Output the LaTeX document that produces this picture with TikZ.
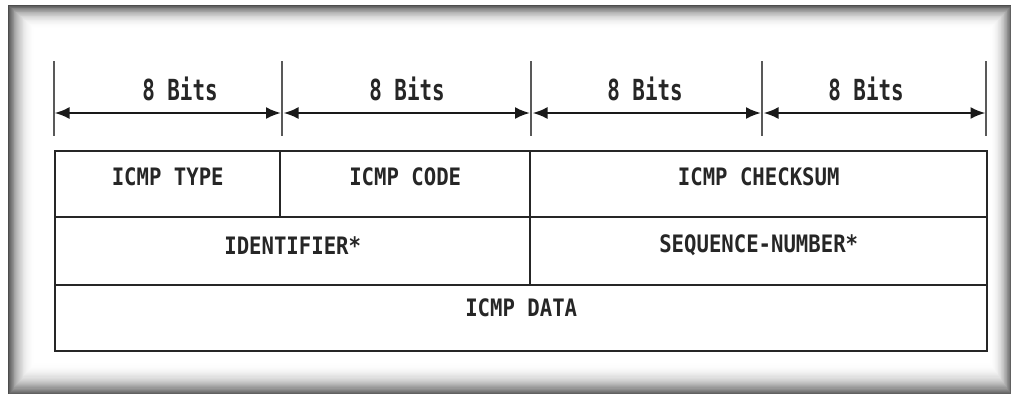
\documentclass[tikz,border=0pt]{standalone}
\usepackage{fontspec}
\usepackage{graphicx}
\usetikzlibrary{arrows.meta}
\newfontfamily\labfont{DejaVu Sans Mono}
\newcommand{\bitstext}[1]{\scalebox{0.72}[1]{\labfont\bfseries #1}}
\newcommand{\celltext}[1]{\scalebox{0.86}[1]{\labfont\bfseries #1}}
\tikzset{
  bitmark/.style={draw=black!65, line width=1.3pt},
  span/.style={{Latex[length=15pt,width=12pt]}-{Latex[length=15pt,width=12pt]}, line width=2.4pt, draw=black!90},
  cell/.style={draw=black!85, line width=2.4pt, rectangle, inner sep=0pt, anchor=north west},
  bitlbl/.style={font=\fontsize{29pt}{30pt}\selectfont, text=black!85, inner sep=0pt},
  celllbl/.style={font=\fontsize{24pt}{26pt}\selectfont, text=black!85, inner sep=0pt}
}
\begin{document}
\begin{tikzpicture}[x=1pt,y=-1pt]
\useasboundingbox (0,0) rectangle (1011,394);
\fill[white] (0,0) rectangle (1011,394);
% shadowed frame
\fill[black!70] (8,5) rectangle (1011,394);
\foreach \i in {0,...,30}{
  \pgfmathsetmacro{\c}{62*(1-\i/30)^2.4}
  \fill[black!\c] (9+\i*0.9,6+\i*0.8) rectangle (1011-\i*0.75,394-\i*1.1);
}
% bit marks
\foreach \n/\x in {0/54,1/282,2/531,3/762,4/986}{
  \coordinate (top\n) at (\x,61);
  \coordinate (bot\n) at (\x,136);
  \coordinate (arr\n) at (\x,113);
  \draw[bitmark] (top\n) -- (bot\n);
}
\draw[span, shorten <=0.5pt, shorten >=1pt] (arr0) -- (arr1);
\draw[span, shorten <=1.5pt, shorten >=1pt] (arr1) -- (arr2);
\draw[span, shorten <=1.5pt, shorten >=1pt] (arr2) -- (arr3);
\draw[span, shorten <=1.5pt, shorten >=0.5pt] (arr3) -- (arr4);
\node[bitlbl] (b1) at (180,89) {\bitstext{8 Bits}};
\node[bitlbl] (b2) at (407,89) {\bitstext{8 Bits}};
\node[bitlbl] (b3) at (645,89) {\bitstext{8 Bits}};
\node[bitlbl] (b4) at (866,89) {\bitstext{8 Bits}};
% table cells
\node[cell, minimum width=225pt, minimum height=66pt] (type) at (54,150) {};
\node[cell, minimum width=250pt, minimum height=66pt] (code) at (279,150) {};
\node[cell, minimum width=457pt, minimum height=66pt] (sum) at (529,150) {};
\node[cell, minimum width=475pt, minimum height=68pt] (ident) at (54,216) {};
\node[cell, minimum width=457pt, minimum height=68pt] (seq) at (529,216) {};
\node[cell, minimum width=932pt, minimum height=66pt] (data) at (54,284) {};
\node[celllbl] at ([yshift=7pt]type.center) {\celltext{ICMP TYPE}};
\node[celllbl] at ([yshift=7pt]code.center) {\celltext{ICMP CODE}};
\node[celllbl] at ([yshift=7pt]sum.center) {\celltext{ICMP CHECKSUM}};
\node[celllbl] at ([yshift=6pt]ident.center) {\celltext{IDENTIFIER*}};
\node[celllbl] at ([yshift=6pt]seq.center) {\celltext{SEQUENCE-NUMBER*}};
\node[celllbl] at ([yshift=10pt]data.center) {\celltext{ICMP DATA}};
\end{tikzpicture}
\end{document}
